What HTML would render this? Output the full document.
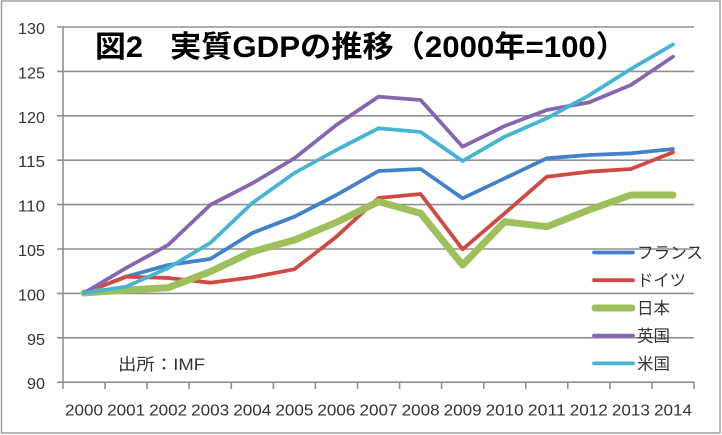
<!DOCTYPE html>
<html>
<head>
<meta charset="utf-8">
<style>
html,body{margin:0;padding:0;background:#fff;}
body{width:722px;height:435px;overflow:hidden;}
svg{display:block;}
.ax{font-family:"Liberation Sans","Noto Sans CJK JP",sans-serif;font-size:15.5px;fill:#333;}
.lg{font-family:"Liberation Sans","Noto Sans CJK JP",sans-serif;font-size:16.5px;fill:#333;}
.tt{font-family:"Liberation Sans","Noto Sans CJK JP",sans-serif;font-size:30px;font-weight:bold;fill:#000;}
</style>
</head>
<body>
<svg width="722" height="435" viewBox="0 0 722 435" xmlns="http://www.w3.org/2000/svg">
<rect x="0" y="0" width="722" height="435" fill="#fff"/>
<rect x="1.5" y="1" width="718.5" height="432" fill="none" stroke="#a0a0a0" stroke-width="1.5"/>

<!-- gridlines -->
<g stroke="#8f8f8f" stroke-width="1.6" fill="none">
<line x1="57" y1="27" x2="694" y2="27"/>
<line x1="57" y1="71.4" x2="694" y2="71.4"/>
<line x1="57" y1="115.8" x2="694" y2="115.8"/>
<line x1="57" y1="160.2" x2="694" y2="160.2"/>
<line x1="57" y1="204.6" x2="694" y2="204.6"/>
<line x1="57" y1="249" x2="694" y2="249"/>
<line x1="57" y1="293.4" x2="694" y2="293.4"/>
<line x1="57" y1="337.8" x2="694" y2="337.8"/>
<line x1="57" y1="382.2" x2="694" y2="382.2"/>
<line x1="63" y1="27" x2="63" y2="382.2"/>
<!-- x ticks -->
<line x1="63" y1="382" x2="63" y2="389"/>
<line x1="105.1" y1="382" x2="105.1" y2="389"/>
<line x1="147.1" y1="382" x2="147.1" y2="389"/>
<line x1="189.2" y1="382" x2="189.2" y2="389"/>
<line x1="231.3" y1="382" x2="231.3" y2="389"/>
<line x1="273.4" y1="382" x2="273.4" y2="389"/>
<line x1="315.4" y1="382" x2="315.4" y2="389"/>
<line x1="357.5" y1="382" x2="357.5" y2="389"/>
<line x1="399.6" y1="382" x2="399.6" y2="389"/>
<line x1="441.6" y1="382" x2="441.6" y2="389"/>
<line x1="483.7" y1="382" x2="483.7" y2="389"/>
<line x1="525.8" y1="382" x2="525.8" y2="389"/>
<line x1="567.8" y1="382" x2="567.8" y2="389"/>
<line x1="609.9" y1="382" x2="609.9" y2="389"/>
<line x1="652" y1="382" x2="652" y2="389"/>
<line x1="694" y1="382" x2="694" y2="389"/>
</g>

<!-- y labels -->
<g class="ax" text-anchor="end">
<text x="45" y="34" textLength="27" lengthAdjust="spacingAndGlyphs">130</text>
<text x="45" y="78.4" textLength="27" lengthAdjust="spacingAndGlyphs">125</text>
<text x="45" y="122.8" textLength="27" lengthAdjust="spacingAndGlyphs">120</text>
<text x="45" y="167.2" textLength="27" lengthAdjust="spacingAndGlyphs">115</text>
<text x="45" y="211.6" textLength="27" lengthAdjust="spacingAndGlyphs">110</text>
<text x="45" y="256" textLength="27" lengthAdjust="spacingAndGlyphs">105</text>
<text x="45" y="300.4" textLength="27" lengthAdjust="spacingAndGlyphs">100</text>
<text x="45" y="344.8" textLength="18" lengthAdjust="spacingAndGlyphs">95</text>
<text x="45" y="389.2" textLength="18" lengthAdjust="spacingAndGlyphs">90</text>
</g>

<!-- x labels -->
<g class="ax" text-anchor="middle">
<text x="84" y="415.5" textLength="38" lengthAdjust="spacingAndGlyphs">2000</text>
<text x="126.1" y="415.5" textLength="38" lengthAdjust="spacingAndGlyphs">2001</text>
<text x="168.1" y="415.5" textLength="38" lengthAdjust="spacingAndGlyphs">2002</text>
<text x="210.2" y="415.5" textLength="38" lengthAdjust="spacingAndGlyphs">2003</text>
<text x="252.3" y="415.5" textLength="38" lengthAdjust="spacingAndGlyphs">2004</text>
<text x="294.4" y="415.5" textLength="38" lengthAdjust="spacingAndGlyphs">2005</text>
<text x="336.4" y="415.5" textLength="38" lengthAdjust="spacingAndGlyphs">2006</text>
<text x="378.5" y="415.5" textLength="38" lengthAdjust="spacingAndGlyphs">2007</text>
<text x="420.6" y="415.5" textLength="38" lengthAdjust="spacingAndGlyphs">2008</text>
<text x="462.6" y="415.5" textLength="38" lengthAdjust="spacingAndGlyphs">2009</text>
<text x="504.7" y="415.5" textLength="38" lengthAdjust="spacingAndGlyphs">2010</text>
<text x="546.8" y="415.5" textLength="38" lengthAdjust="spacingAndGlyphs">2011</text>
<text x="588.8" y="415.5" textLength="38" lengthAdjust="spacingAndGlyphs">2012</text>
<text x="630.9" y="415.5" textLength="38" lengthAdjust="spacingAndGlyphs">2013</text>
<text x="673" y="415.5" textLength="38" lengthAdjust="spacingAndGlyphs">2014</text>
</g>

<!-- title -->
<text class="tt" x="95" y="57" textLength="48" lengthAdjust="spacingAndGlyphs">図2</text>
<text class="tt" x="170" y="57" textLength="457" lengthAdjust="spacingAndGlyphs">実質GDPの推移（2000年=100）</text>

<!-- source -->
<text class="lg" x="118" y="370" textLength="87" lengthAdjust="spacingAndGlyphs">出所：IMF</text>

<!-- series -->
<g fill="none" stroke-linejoin="round" stroke-linecap="round">
<!-- France -->
<polyline stroke="#4282cc" stroke-width="3.8" points="84,293 126.1,276.7 168.1,265 210.2,259 252.3,233 294.4,216.7 336.4,195 378.5,171 420.6,169 462.6,198.3 504.7,178.3 546.8,158.3 588.8,155 630.9,153.3 673,149"/>
<!-- Germany -->
<polyline stroke="#d04a43" stroke-width="3.8" points="84,293 126.1,276.7 168.1,278 210.2,282.7 252.3,277.3 294.4,269.3 336.4,236.7 378.5,198 420.6,194 462.6,249.3 504.7,213.3 546.8,176.7 588.8,171.7 630.9,169 673,152.3"/>
<!-- Japan -->
<polyline stroke="#9dc05a" stroke-width="7" points="84,293 126.1,290 168.1,287.7 210.2,271.7 252.3,251.7 294.4,240 336.4,222.3 378.5,201.7 420.6,213.3 462.6,265 504.7,221.7 546.8,226.7 588.8,210 630.9,195 673,195"/>
<!-- UK -->
<polyline stroke="#8666b0" stroke-width="3.8" points="84,293 126.1,268 168.1,245 210.2,205 252.3,183.3 294.4,158.3 336.4,125 378.5,96.7 420.6,100 462.6,146.7 504.7,126 546.8,110 588.8,102.5 630.9,85 673,56.7"/>
<!-- US -->
<polyline stroke="#45b5d3" stroke-width="3.8" points="84,293 126.1,286.7 168.1,268 210.2,243 252.3,203 294.4,173 336.4,150 378.5,128.3 420.6,132 462.6,161 504.7,136.7 546.8,118.3 588.8,95.5 630.9,69 673,44.5"/>
</g>

<!-- legend -->
<g stroke-linecap="round">
<line x1="594" y1="252.5" x2="633" y2="252.5" stroke="#4282cc" stroke-width="3.8"/>
<line x1="594" y1="280.2" x2="633" y2="280.2" stroke="#d04a43" stroke-width="3.8"/>
<line x1="595" y1="308" x2="632" y2="308" stroke="#9dc05a" stroke-width="7"/>
<line x1="594" y1="335.7" x2="633" y2="335.7" stroke="#8666b0" stroke-width="3.8"/>
<line x1="594" y1="363.4" x2="633" y2="363.4" stroke="#45b5d3" stroke-width="3.8"/>
</g>
<g class="lg">
<text x="637" y="258.5" textLength="66" lengthAdjust="spacingAndGlyphs">フランス</text>
<text x="637" y="286.2" textLength="49" lengthAdjust="spacingAndGlyphs">ドイツ</text>
<text x="637" y="314" textLength="33" lengthAdjust="spacingAndGlyphs">日本</text>
<text x="637" y="341.7" textLength="33" lengthAdjust="spacingAndGlyphs">英国</text>
<text x="637" y="369.4" textLength="33" lengthAdjust="spacingAndGlyphs">米国</text>
</g>
</svg>
</body>
</html>
